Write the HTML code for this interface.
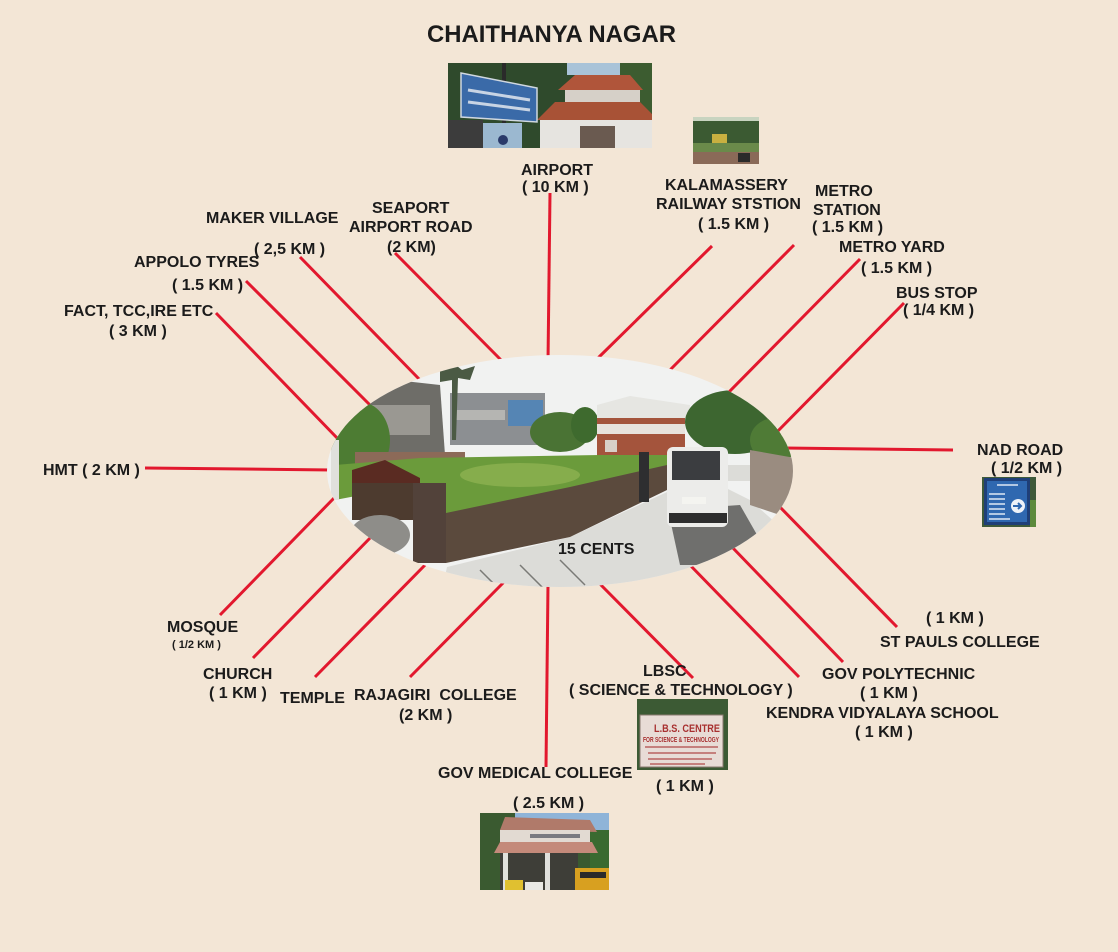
<!DOCTYPE html>
<html>
<head>
<meta charset="utf-8">
<style>
  html, body { margin:0; padding:0; background:#f3e6d6; }
  svg { display:block; }
  .t { font-family:"Liberation Sans", Arial, sans-serif; font-weight:bold; font-size:16px; fill:#1b1b1b; white-space:pre; }
</style>
</head>
<body>
<svg width="1118" height="952" viewBox="0 0 1118 952" xmlns="http://www.w3.org/2000/svg">
  <defs>
    <clipPath id="ell"><ellipse cx="560" cy="471" rx="233" ry="116"/></clipPath>
  </defs>
  <rect x="0" y="0" width="1118" height="952" fill="#f3e6d6"/>

  <!-- title -->
  <text class="t" x="427" y="42" style="font-size:24px" textLength="249" lengthAdjust="spacingAndGlyphs">CHAITHANYA NAGAR</text>

  <!-- red connector lines -->
  <g stroke="#e2182e" stroke-width="3" fill="none">
    <line x1="550" y1="193" x2="548" y2="362"/>
    <line x1="395" y1="253" x2="503" y2="362"/>
    <line x1="300" y1="257" x2="420" y2="380"/>
    <line x1="246" y1="281" x2="372" y2="407"/>
    <line x1="216" y1="313" x2="340" y2="441"/>
    <line x1="145" y1="468" x2="332" y2="470"/>
    <line x1="336" y1="496" x2="220" y2="615"/>
    <line x1="372" y1="536" x2="253" y2="658"/>
    <line x1="427" y1="563" x2="315" y2="677"/>
    <line x1="504" y1="582" x2="410" y2="677"/>
    <line x1="548" y1="584" x2="546" y2="767"/>
    <line x1="599" y1="583" x2="693" y2="678"/>
    <line x1="688" y1="563" x2="799" y2="677"/>
    <line x1="731" y1="546" x2="843" y2="662"/>
    <line x1="777" y1="504" x2="897" y2="627"/>
    <line x1="784" y1="448" x2="953" y2="450"/>
    <line x1="904" y1="303" x2="773" y2="436"/>
    <line x1="860" y1="259" x2="729" y2="392"/>
    <line x1="794" y1="245" x2="668" y2="372"/>
    <line x1="712" y1="246" x2="597" y2="359"/>
  </g>

  <!-- central ellipse photo -->
  <g clip-path="url(#ell)">
    <rect x="320" y="350" width="480" height="245" fill="#f1f2f1"/>
    <!-- background buildings -->
    <polygon points="345,405 395,380 440,385 445,455 345,460" fill="#6e6d68"/>
    <rect x="360" y="405" width="70" height="30" fill="#9a9892"/>
    <rect x="450" y="393" width="95" height="52" fill="#8c8f92"/>
    <rect x="455" y="410" width="50" height="10" fill="#b5b5b2"/>
    <rect x="508" y="400" width="35" height="26" fill="#5585b4"/>
    <polygon points="440,366 452,362 462,370 475,366 470,380 458,378 456,440 452,440 452,380 440,382" fill="#4b5a44"/>
    <!-- middle trees -->
    <ellipse cx="560" cy="432" rx="30" ry="20" fill="#4a7334"/>
    <ellipse cx="585" cy="425" rx="14" ry="18" fill="#3e6a2e"/>
    <!-- red house -->
    <polygon points="597,405 630,396 690,405 690,420 597,420" fill="#e6e6e2"/>
    <rect x="597" y="418" width="88" height="45" fill="#a4543c"/>
    <rect x="597" y="424" width="88" height="10" fill="#e8e2dc"/>
    <rect x="605" y="440" width="12" height="12" fill="#d8d0c8"/>
    <!-- right trees -->
    <ellipse cx="735" cy="422" rx="50" ry="32" fill="#3d6630"/>
    <ellipse cx="775" cy="440" rx="25" ry="22" fill="#4f7b36"/>
    <!-- left foliage -->
    <ellipse cx="360" cy="440" rx="30" ry="38" fill="#4d7c33"/>
    <!-- back wall -->
    <rect x="355" y="452" width="110" height="18" fill="#8c6a58"/>
    <!-- field -->
    <polygon points="335,465 420,458 600,455 667,455 667,468 447,514 413,514 413,485 335,500" fill="#6b9b3b"/>
    <ellipse cx="520" cy="475" rx="60" ry="12" fill="#86ad4c"/>
    <!-- left pole -->
    <rect x="331" y="440" width="8" height="60" fill="#e0e0dc"/>
    <!-- brown shed / fence -->
    <polygon points="352,470 385,460 420,478 420,493 352,493" fill="#5a2b22"/>
    <rect x="352" y="483" width="62" height="37" fill="#4d3b2f"/>
    <!-- gravel -->
    <ellipse cx="380" cy="535" rx="30" ry="20" fill="#8e8d89"/>
    <!-- road -->
    <polygon points="447,567 570,537 667,492 700,475 750,500 795,540 795,600 440,600" fill="#dcdcd8"/>
    <polygon points="668,510 740,505 760,540 730,565 680,565" fill="#6f6f6d"/>
    <!-- main wall -->
    <polygon points="413,483 446,483 446,513 570,487 667,465 667,490 570,537 446,563 413,563" fill="#5b4a3d"/>
    <rect x="413" y="483" width="33" height="80" fill="#52423a"/>
    <!-- person -->
    <rect x="639" y="452" width="10" height="50" fill="#2e2e30"/>
    <!-- right wall -->
    <polygon points="750,450 795,458 795,520 750,505" fill="#9a8c80"/>
    <!-- van -->
    <rect x="667" y="447" width="61" height="80" rx="6" fill="#ececea"/>
    <rect x="672" y="451" width="48" height="29" fill="#3b3d40"/>
    <rect x="669" y="513" width="58" height="10" fill="#2e2e2e"/>
    <rect x="682" y="497" width="24" height="7" fill="#f4f4f0"/>
    <rect x="728" y="465" width="22" height="16" fill="#dcdcd8"/>
    <!-- road lines -->
    <g stroke="#7a7a76" stroke-width="1.5">
      <line x1="480" y1="570" x2="500" y2="590"/>
      <line x1="520" y1="565" x2="545" y2="590"/>
      <line x1="560" y1="560" x2="585" y2="585"/>
    </g>
  </g>
  <text class="t" x="558" y="554">15 CENTS</text>

  <!-- top photo -->
  <g>
    <rect x="448" y="63" width="204" height="85" fill="#2f4a2c"/>
    <rect x="567" y="63" width="85" height="12" fill="#a9c3d8"/>
    <rect x="620" y="63" width="32" height="50" fill="#3c5c30"/>
    <polygon points="558,90 575,75 630,75 643,90" fill="#b0553a"/>
    <rect x="565" y="90" width="75" height="12" fill="#d6d0c8"/>
    <polygon points="537,120 555,102 640,102 652,114 652,120" fill="#a85236"/>
    <rect x="540" y="120" width="112" height="28" fill="#e6e4e0"/>
    <rect x="580" y="126" width="35" height="22" fill="#6a5a50"/>
    <rect x="448" y="120" width="35" height="28" fill="#3c3c3c"/>
    <rect x="502" y="63" width="4" height="85" fill="#2a2a2a"/>
    <polygon points="461,73 537,88 537,122 461,117" fill="#3a6aa8" stroke="#d0d8e0" stroke-width="1.5"/>
    <line x1="468" y1="90" x2="530" y2="100" stroke="#c8d4e4" stroke-width="3"/>
    <line x1="468" y1="102" x2="530" y2="110" stroke="#c8d4e4" stroke-width="3"/>
    <rect x="483" y="123" width="39" height="25" fill="#9bb8d0"/>
    <circle cx="503" cy="140" r="5" fill="#2a3a6a"/>
  </g>

  <!-- railway photo -->
  <g>
    <rect x="693" y="117" width="66" height="47" fill="#3b5a32"/>
    <rect x="693" y="117" width="66" height="4" fill="#c8d4c0"/>
    <rect x="712" y="134" width="15" height="10" fill="#c8b040"/>
    <rect x="693" y="143" width="66" height="9" fill="#6a8a4a"/>
    <rect x="693" y="152" width="66" height="12" fill="#8a6a58"/>
    <rect x="738" y="153" width="12" height="9" fill="#2a2a2a"/>
  </g>

  <!-- NAD sign -->
  <g>
    <rect x="982" y="477" width="54" height="50" fill="#3e5a3a"/>
    <rect x="984" y="478" width="46" height="47" fill="#1f3f78"/>
    <rect x="987" y="481" width="40" height="41" fill="#2f68b0"/>
    <g stroke="#dfe8f4" stroke-width="1.5">
      <line x1="997" y1="485" x2="1018" y2="485"/>
      <line x1="989" y1="494" x2="1005" y2="494"/>
      <line x1="989" y1="499" x2="1005" y2="499"/>
      <line x1="989" y1="504" x2="1005" y2="504"/>
      <line x1="989" y1="509" x2="1005" y2="509"/>
      <line x1="989" y1="514" x2="1005" y2="514"/>
      <line x1="989" y1="519" x2="1010" y2="519"/>
    </g>
    <circle cx="1018" cy="506" r="7" fill="#eef2f8"/>
    <path d="M1013 506 h8 M1018 503 l3 3 l-3 3" stroke="#2f68b0" stroke-width="2" fill="none"/>
    <rect x="1030" y="500" width="6" height="27" fill="#5c8a3c"/>
  </g>

  <!-- LBS photo -->
  <g>
    <rect x="637" y="699" width="91" height="71" fill="#3c5a34"/>
    <rect x="640" y="715" width="83" height="52" fill="#e8dcd6" stroke="#8a7a70" stroke-width="1"/>
    <text x="654" y="732" font-family="Liberation Sans, Arial, sans-serif" font-size="11" font-weight="bold" fill="#a83030" textLength="66" lengthAdjust="spacingAndGlyphs">L.B.S. CENTRE</text>
    <text x="643" y="742" font-family="Liberation Sans, Arial, sans-serif" font-size="7" font-weight="bold" fill="#a83030" textLength="76" lengthAdjust="spacingAndGlyphs">FOR SCIENCE &amp; TECHNOLOGY</text>
    <g stroke="#b04848" stroke-width="1.2">
      <line x1="645" y1="747" x2="718" y2="747"/>
      <line x1="648" y1="753" x2="716" y2="753"/>
      <line x1="648" y1="759" x2="712" y2="759"/>
      <line x1="650" y1="764" x2="705" y2="764"/>
    </g>
  </g>

  <!-- Medical college photo -->
  <g>
    <rect x="480" y="813" width="129" height="77" fill="#3a5a30"/>
    <rect x="515" y="813" width="94" height="22" fill="#8fb4d8"/>
    <rect x="590" y="830" width="19" height="40" fill="#3a6a30"/>
    <polygon points="500,830 505,817 590,820 597,832" fill="#b07a6a"/>
    <rect x="500" y="830" width="90" height="13" fill="#e2dad2"/>
    <rect x="530" y="834" width="50" height="4" fill="#7a7a80"/>
    <polygon points="494,853 500,842 592,842 598,853" fill="#c48a7a"/>
    <rect x="500" y="853" width="78" height="37" fill="#3e3e38"/>
    <rect x="503" y="853" width="5" height="37" fill="#e0e0dc"/>
    <rect x="545" y="853" width="5" height="37" fill="#e0e0dc"/>
    <rect x="575" y="868" width="34" height="22" fill="#d8a020"/>
    <rect x="580" y="872" width="26" height="6" fill="#2a2a2a"/>
    <rect x="505" y="880" width="18" height="10" fill="#e0c030"/>
    <rect x="525" y="882" width="18" height="8" fill="#e8e8e4"/>
  </g>

  <!-- labels -->
  <text class="t" x="521" y="175">AIRPORT</text>
  <text class="t" x="522" y="192">( 10 KM )</text>

  <text class="t" x="206" y="223">MAKER VILLAGE</text>
  <text class="t" x="254" y="254">( 2,5 KM )</text>

  <text class="t" x="372" y="213">SEAPORT</text>
  <text class="t" x="349" y="232">AIRPORT ROAD</text>
  <text class="t" x="387" y="252">(2 KM)</text>

  <text class="t" x="134" y="267">APPOLO TYRES</text>
  <text class="t" x="172" y="290">( 1.5 KM )</text>

  <text class="t" x="64" y="316">FACT, TCC,IRE ETC</text>
  <text class="t" x="109" y="336">( 3 KM )</text>

  <text class="t" x="665" y="190">KALAMASSERY</text>
  <text class="t" x="656" y="209">RAILWAY STSTION</text>
  <text class="t" x="698" y="229">( 1.5 KM )</text>

  <text class="t" x="815" y="196">METRO</text>
  <text class="t" x="813" y="215">STATION</text>
  <text class="t" x="812" y="232">( 1.5 KM )</text>

  <text class="t" x="839" y="252">METRO YARD</text>
  <text class="t" x="861" y="273">( 1.5 KM )</text>

  <text class="t" x="896" y="298">BUS STOP</text>
  <text class="t" x="903" y="315">( 1/4 KM )</text>

  <text class="t" x="43" y="475">HMT ( 2 KM )</text>

  <text class="t" x="977" y="455">NAD ROAD</text>
  <text class="t" x="991" y="473">( 1/2 KM )</text>

  <text class="t" x="167" y="632">MOSQUE</text>
  <text class="t" x="172" y="648" style="font-size:11px">( 1/2 KM )</text>

  <text class="t" x="203" y="679">CHURCH</text>
  <text class="t" x="209" y="698">( 1 KM )</text>

  <text class="t" x="280" y="703">TEMPLE</text>

  <text class="t" x="354" y="700">RAJAGIRI  COLLEGE</text>
  <text class="t" x="399" y="720">(2 KM )</text>

  <text class="t" x="438" y="778">GOV MEDICAL COLLEGE</text>
  <text class="t" x="513" y="808">( 2.5 KM )</text>

  <text class="t" x="643" y="676">LBSC</text>
  <text class="t" x="569" y="695">( SCIENCE &amp; TECHNOLOGY )</text>
  <text class="t" x="656" y="791">( 1 KM )</text>

  <text class="t" x="926" y="623">( 1 KM )</text>
  <text class="t" x="880" y="647">ST PAULS COLLEGE</text>

  <text class="t" x="822" y="679">GOV POLYTECHNIC</text>
  <text class="t" x="860" y="698">( 1 KM )</text>

  <text class="t" x="766" y="718">KENDRA VIDYALAYA SCHOOL</text>
  <text class="t" x="855" y="737">( 1 KM )</text>
</svg>
</body>
</html>
